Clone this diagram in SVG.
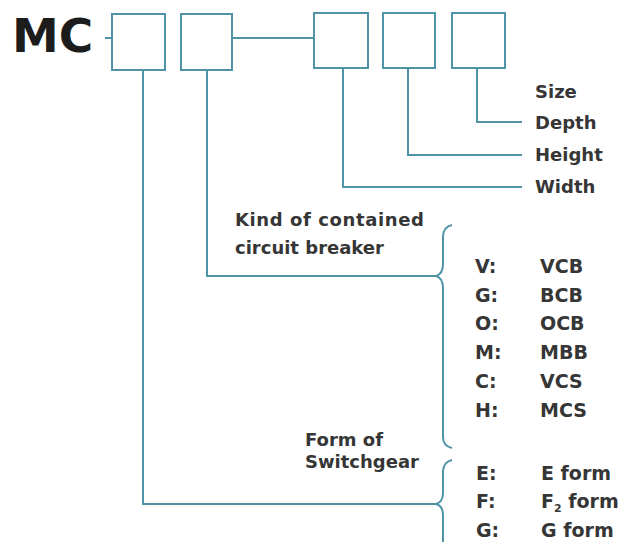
<svg xmlns="http://www.w3.org/2000/svg" width="631" height="542" viewBox="0 0 631 542">
<style>
.box{fill:none;stroke:#4f93a8;stroke-width:2}
.ln{fill:none;stroke:#4f93a8;stroke-width:2}
.t{font-family:"DejaVu Sans",sans-serif;font-weight:bold;font-size:18px;fill:#363636}
.l{font-family:"DejaVu Sans",sans-serif;font-weight:bold;font-size:19px;fill:#363636}
.mc{font-family:"DejaVu Sans",sans-serif;font-weight:bold;font-size:47px;fill:#1c1c1c}
</style>
<rect width="631" height="542" fill="#ffffff"/>
<g id="title"><text class="mc" x="12" y="52">MC</text></g>
<g id="box1"><rect class="box" x="112" y="14" width="53" height="56"/></g>
<g id="box2"><rect class="box" x="181" y="14" width="51" height="56"/></g>
<g id="box3"><rect class="box" x="314" y="13" width="54" height="55"/></g>
<g id="box4"><rect class="box" x="383" y="13" width="52" height="55"/></g>
<g id="box5"><rect class="box" x="452" y="13" width="53" height="55"/></g>
<g id="connectors">
<path class="ln" d="M105 38 H112"/>
<path class="ln" d="M232 38 H314"/>
<path class="ln" d="M477 68 V122 H522"/>
<path class="ln" d="M408 68 V155 H522"/>
<path class="ln" d="M343 68 V187 H522"/>
<path class="ln" d="M207 70 V276 H437"/>
<path class="ln" d="M143 70 V504 H437"/>
<path class="ln" d="M452 225 Q443 227 443 237 V264 Q443 274 436 276 Q443 278 443 288 V437 Q443 446 452 448"/>
<path class="ln" d="M452 460 Q443 462 443 472 V493 Q443 502 436 504 Q443 506 443 515 V542"/>
</g>
<g id="labels-dims">
<text class="t" x="535" y="98">Size</text>
<text class="t" x="535" y="129">Depth</text>
<text class="t" x="535" y="161">Height</text>
<text class="t" x="535" y="193">Width</text>
</g>
<g id="label-kind">
<text class="t" x="235" y="226" letter-spacing="0.6">Kind of contained</text>
<text class="t" x="235" y="254">circuit breaker</text>
</g>
<g id="list-kind">
<text class="l" x="475" y="273">V:</text><text class="l" x="540" y="273">VCB</text>
<text class="l" x="475" y="302">G:</text><text class="l" x="540" y="302">BCB</text>
<text class="l" x="475" y="330">O:</text><text class="l" x="540" y="330">OCB</text>
<text class="l" x="475" y="359">M:</text><text class="l" x="540" y="359">MBB</text>
<text class="l" x="475" y="388">C:</text><text class="l" x="540" y="388">VCS</text>
<text class="l" x="475" y="417">H:</text><text class="l" x="540" y="417">MCS</text>
</g>
<g id="label-form">
<text class="t" x="305" y="446">Form of</text>
<text class="t" x="305" y="468">Switchgear</text>
</g>
<g id="list-form">
<text class="l" x="476" y="480">E:</text><text class="l" x="541" y="480">E form</text>
<text class="l" x="476" y="508">F:</text><text class="l" x="541" y="508">F<tspan font-size="11" dy="4">2</tspan><tspan dy="-4"> form</tspan></text>
<text class="l" x="476" y="537">G:</text><text class="l" x="541" y="537">G form</text>
</g>
</svg>
